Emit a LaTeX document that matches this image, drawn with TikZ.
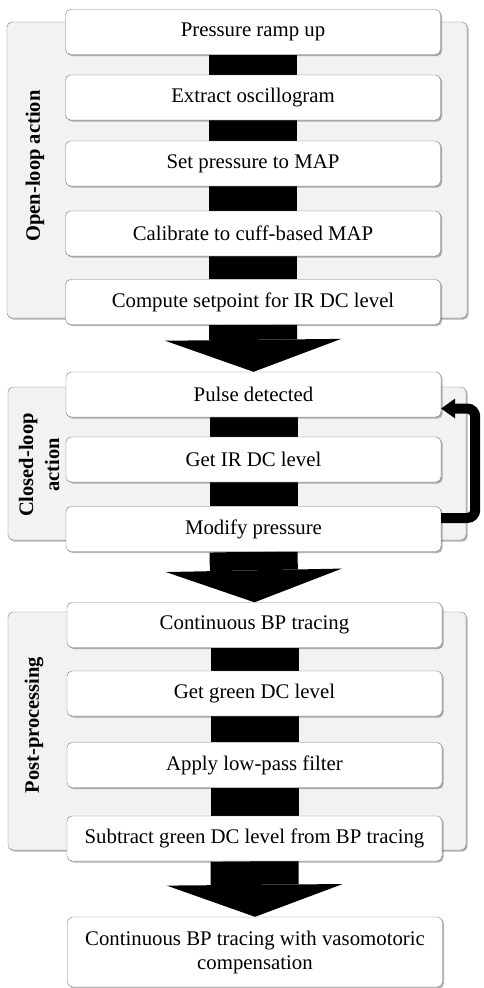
\documentclass[tikz,border=0pt]{standalone}
\usepackage{fontspec}
\setmainfont{Liberation Serif}
\usepackage{tikz}
\usetikzlibrary{arrows.meta,shadows,backgrounds}
\definecolor{panelgray}{HTML}{F2F2F2}
\definecolor{edgegray}{HTML}{7A7A7A}
\tikzset{%
  tipL/.tip={Triangle[width=20pt,length=14pt,line width=0pt]},
  tipB/.tip={Triangle[width=176pt,length=32pt,line width=0pt]},
  stepbox/.style={draw=edgegray, fill=white, rounded corners=5pt, minimum width=375pt,
    minimum height=45pt, inner sep=0pt, font=\fontsize{20.8}{24}\selectfont, align=center,
    drop shadow={shadow xshift=1.5pt, shadow yshift=-1.5pt, fill=black, opacity=0.3}},
  panel/.style={draw=edgegray, fill=panelgray, rounded corners=5pt,
    drop shadow={shadow xshift=1.5pt, shadow yshift=-1.5pt, fill=black, opacity=0.3}},
  panellabel/.style={rotate=90, align=center, font=\bfseries\fontsize{20.5}{26}\selectfont},
  bar/.style={line width=88pt},
  bigarrow/.style={line width=88pt, -tipB},
  loopback/.style={line width=10pt, rounded corners=8pt, -tipL}
}

\begin{document}
\begin{tikzpicture}[x=1pt,y=-1pt]
\useasboundingbox (0,0) rectangle (484,988);
\node[stepbox] (ramp) at (253,32) {Pressure ramp up};
\node[stepbox] (extract) at (253,97.5) {Extract oscillogram};
\node[stepbox] (setmap) at (253,163.5) {Set pressure to MAP};
\node[stepbox] (calib) at (253,233.5) {Calibrate to cuff-based MAP};
\node[stepbox] (setpt) at (253,302) {Compute setpoint for IR DC level};
\node[panellabel] (openlbl) at (35,166) {Open-loop action};
\node[stepbox] (pulse) at (253.5,394.5) {Pulse detected};
\node[stepbox] (getir) at (253.5,459.5) {Get IR DC level};
\node[stepbox] (modp) at (253.5,529) {Modify pressure};
\node[panellabel] (closedlbl) at (39,465) {Closed-loop\\action};
\node[stepbox] (cont) at (254.5,625) {Continuous BP tracing};
\node[stepbox] (green) at (254.5,693.5) {Get green DC level};
\node[stepbox] (lowp) at (254.5,765) {Apply low-pass filter};
\node[stepbox] (subtr) at (254.5,838.5) {Subtract green DC level from BP tracing};
\node[panellabel] (postlbl) at (34,725) {Post-processing};
\node[stepbox, minimum height=70pt] (final) at (255,952) {Continuous BP tracing with vasomotoric\\compensation};
\draw[loopback] ([yshift=11pt]modp.east) -- ++(34,0) |- ([yshift=-14pt]pulse.east);
\begin{scope}[on background layer]
\draw[panel] (7,22) rectangle (467,318);
\draw[panel] (8,387) rectangle (466,540);
\draw[panel] (8,612) rectangle (466,850);
\draw[bar] (ramp.south) -- (extract.north);
\draw[bar] (extract.south) -- (setmap.north);
\draw[bar] (setmap.south) -- (calib.north);
\draw[bar] (calib.south) -- (setpt.north);
\draw[bigarrow] (setpt.south) -- (pulse.north);
\draw[bar] (pulse.south) -- (getir.north);
\draw[bar] (getir.south) -- (modp.north);
\draw[bigarrow] (modp.south) -- (cont.north);
\draw[bar] (cont.south) -- (green.north);
\draw[bar] (green.south) -- (lowp.north);
\draw[bar] (lowp.south) -- (subtr.north);
\draw[bigarrow] (subtr.south) -- (final.north);
\end{scope}
\end{tikzpicture}
\end{document}
